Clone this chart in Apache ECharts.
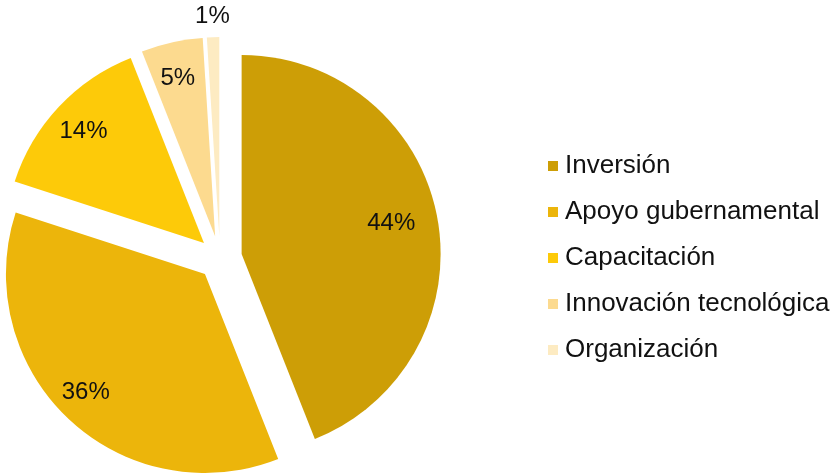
<!DOCTYPE html>
<html>
<head>
<meta charset="utf-8">
<script src="https://cdn.jsdelivr.net/npm/echarts@6/dist/echarts.min.js"></script>
<style>
  html, body { margin: 0; padding: 0; background: #ffffff; }
  #chart { width: 836px; height: 474px; }
</style>
</head>
<body>
<div id="chart"></div>
<script>
// Share of each factor (percent)
const categories = ['Inversión', 'Apoyo gubernamental', 'Capacitación', 'Innovación tecnológica', 'Organización'];
const values = [44, 36, 14, 5, 1];
const colors = ['#CD9E06', '#ECB50B', '#FDCA09', '#FCDA8F', '#FDEBC2'];

const FONT = '"Liberation Sans", Arial, sans-serif';
const CENTER = [220, 258];
const RADIUS = 199;
const EXPLODE = 22;

// small nudges [right, down] for the in-slice percentage labels
const labelNudge = [[-10, -2], [-8, -2], [-2, 7], [-2, 0], [0, 0]];

// shift a label box by padding on the opposite side
function nudgePadding(n) {
  const dx = n[0], dy = n[1];
  return [Math.max(0, 2 * dy), Math.max(0, -2 * dx), Math.max(0, -2 * dy), Math.max(0, 2 * dx)];
}

const sliceData = categories.map((name, i) => ({
  name: name,
  value: values[i],
  selected: true,
  itemStyle: { color: colors[i] }
}));

// Transparent ring carrying the percentage labels, exploded the same way
const labelData = categories.map((name, i) => ({
  name: name,
  value: values[i],
  selected: true,
  itemStyle: { color: 'rgba(0,0,0,0)' },
  label: { show: i < values.length - 1, padding: nudgePadding(labelNudge[i]) }
}));

// Outer ring that only labels the thinnest slice, above its tip
const tipLabelData = categories.map((name, i) => ({
  name: name,
  value: values[i],
  selected: true,
  itemStyle: { color: 'rgba(0,0,0,0)' },
  label: { show: i === values.length - 1 }
}));

const labelStyle = {
  position: 'inside',
  formatter: p => p.value + '%',
  fontFamily: FONT,
  fontSize: 24,
  color: '#111111'
};

const chart = echarts.init(document.getElementById('chart'), null, { renderer: 'canvas' });
chart.setOption({
  animation: false,
  backgroundColor: '#ffffff',
  legend: {
    orient: 'vertical',
    left: 543,
    top: 148,
    itemWidth: 10,
    itemHeight: 10,
    itemGap: 20,
    icon: 'rect',
    selectedMode: false,
    data: categories,
    textStyle: {
      fontFamily: FONT,
      fontSize: 26,
      lineHeight: 26,
      padding: [0, 0, 0, 2],
      color: '#111111'
    }
  },
  series: [
    {
      type: 'pie',
      center: CENTER,
      radius: [0, RADIUS],
      startAngle: 90,
      clockwise: true,
      selectedMode: 'multiple',
      selectedOffset: EXPLODE,
      avoidLabelOverlap: false,
      label: { show: false },
      labelLine: { show: false },
      emphasis: { disabled: true },
      data: sliceData
    },
    {
      type: 'pie',
      silent: true,
      center: CENTER,
      radius: [120, RADIUS],
      startAngle: 90,
      clockwise: true,
      selectedMode: 'multiple',
      selectedOffset: EXPLODE,
      avoidLabelOverlap: false,
      minShowLabelAngle: 0,
      emphasis: { disabled: true },
      labelLine: { show: false },
      label: Object.assign({ show: true }, labelStyle),
      data: labelData
    },
    {
      type: 'pie',
      silent: true,
      center: CENTER,
      radius: [160, 274],
      startAngle: 90,
      clockwise: true,
      selectedMode: 'multiple',
      selectedOffset: EXPLODE,
      avoidLabelOverlap: false,
      minShowLabelAngle: 0,
      emphasis: { disabled: true },
      labelLine: { show: false },
      label: Object.assign({ show: true }, labelStyle),
      data: tipLabelData
    }
  ]
});
</script>
</body>
</html>
